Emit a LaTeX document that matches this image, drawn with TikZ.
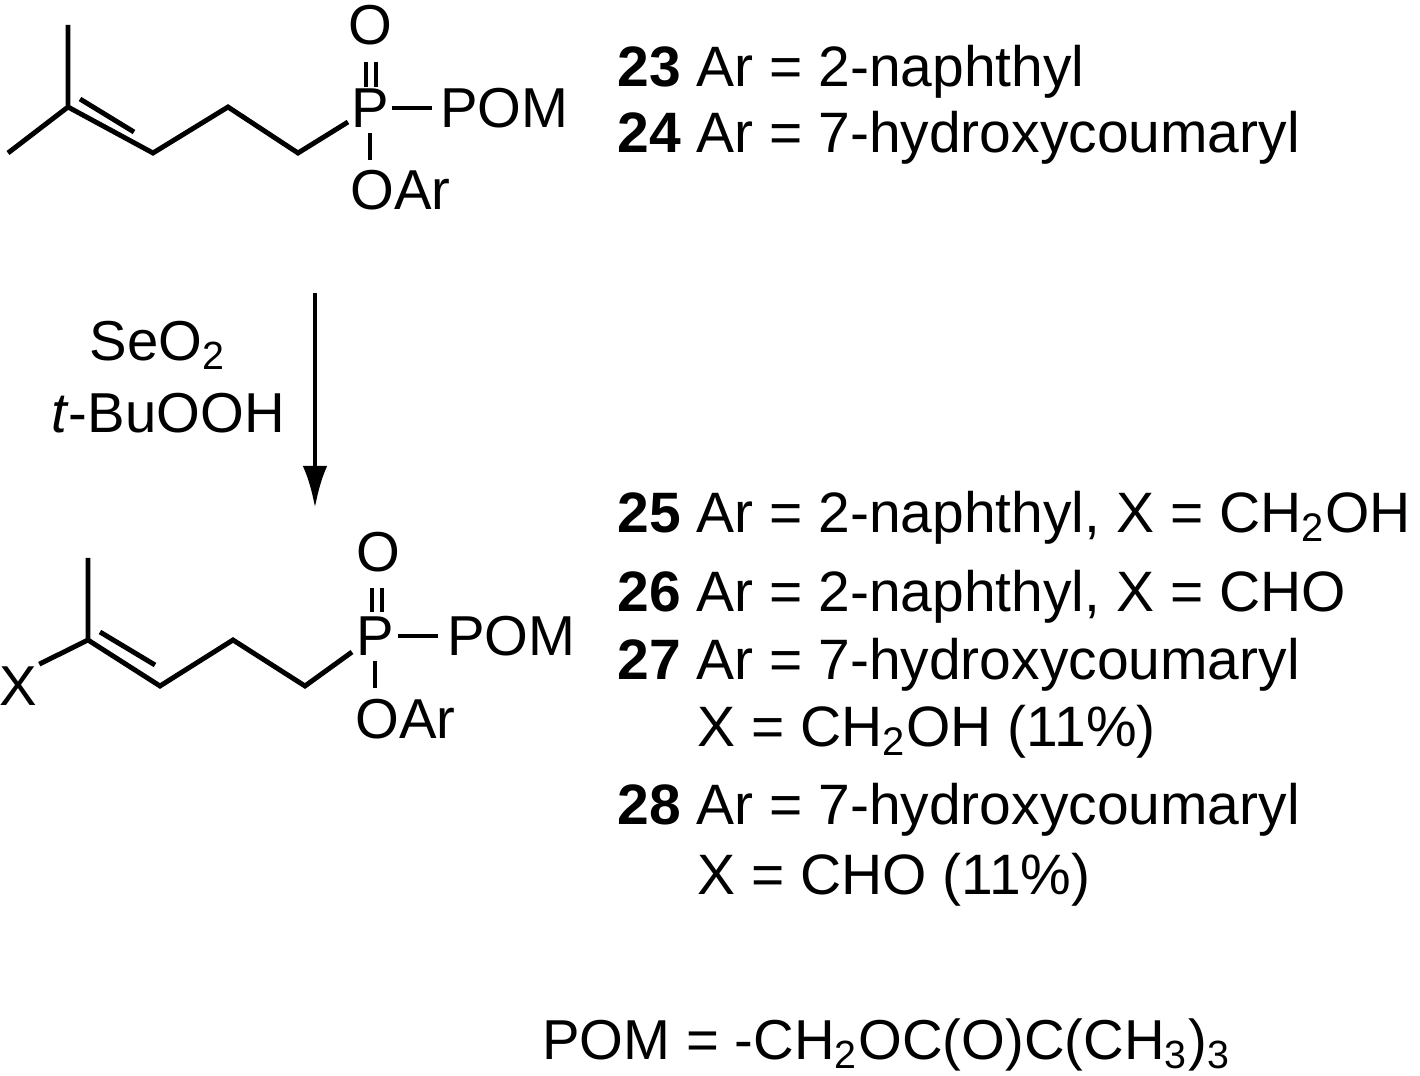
\documentclass[tikz,border=0pt]{standalone}
\usepackage{fontspec}
\setmainfont{Liberation Sans}
\usetikzlibrary{arrows.meta}
\begin{document}
\begin{tikzpicture}[x=0.01cm,y=-0.01cm,line width=1.4pt,>={Latex[length=12pt,width=7pt]},
  atom/.style={inner sep=0pt,font=\fontsize{16}{18}\selectfont},
  lbl/.style={anchor=west,inner sep=0pt,font=\fontsize{16.2}{18}\selectfont}]
\useasboundingbox (0,0) rectangle (1420,1076);
% starting phosphonate
\begin{scope}
\node[atom] (P1) at (370,108) {P};
\node[atom] (O1) at (370,25) {O};
\node[atom,anchor=west] (M1) at (438,108) {POM};
\node[atom,anchor=north west] (A1) at (348,168) {OAr};
\draw (8,153)--(68,107)--(68,25);
\draw (68,107)--(153,153)--(228,107)--(298,153)--(348,122);
\draw (80,99)--(134,132);
\draw (366,62)--(366,87) (376,62)--(376,87);
\draw (392,108)--(432,108);
\draw (370,133)--(370,160);
\end{scope}
% product
\begin{scope}
\node[atom] (P2) at (375,636) {P};
\node[atom] (O2) at (378,552) {O};
\node[atom,anchor=west] (M2) at (445,636) {POM};
\node[atom] (X) at (18,686) {X};
\node[atom,anchor=north west] (A2) at (353,697) {OAr};
\draw (X.north east)--(88,640)--(88,558);
\draw (88,640)--(160,686)--(233,640)--(305,686)--(352,652);
\draw (100,632)--(155,665);
\draw (372,588)--(372,612) (382,588)--(382,612);
\draw (398,636)--(438,636);
\draw (375,661)--(375,688);
\end{scope}
% reaction arrow
\coordinate (s) at (315,293);
\coordinate (e) at (315,508);
\draw[->] (s)--(e);
\node[atom] (r1) at (158,345) {SeO\textsubscript{2}};
\node[atom] (r2) at (168,413) {\textit{t}-BuOOH};
% compound labels
\node[lbl] (c23) at (615,72) {\textbf{23} Ar = 2-naphthyl};
\node[lbl] (c24) at (615,138) {\textbf{24} Ar = 7-hydroxycoumaryl};
\node[lbl] (c25) at (615,518) {\textbf{25} Ar = 2-naphthyl, X = CH\textsubscript{2}OH};
\node[lbl] (c26) at (615,597) {\textbf{26} Ar = 2-naphthyl, X = CHO};
\node[lbl] (c27) at (615,665) {\textbf{27} Ar = 7-hydroxycoumaryl};
\node[lbl] (c27b) at (695,732) {X = CH\textsubscript{2}OH (11\%)};
\node[lbl] (c28) at (615,810) {\textbf{28} Ar = 7-hydroxycoumaryl};
\node[lbl] (c28b) at (695,880) {X = CHO (11\%)};
\node[atom,anchor=west] (pom) at (540,1045) {POM = -CH\textsubscript{2}OC(O)C(CH\textsubscript{3})\textsubscript{3}};
\end{tikzpicture}
\end{document}
